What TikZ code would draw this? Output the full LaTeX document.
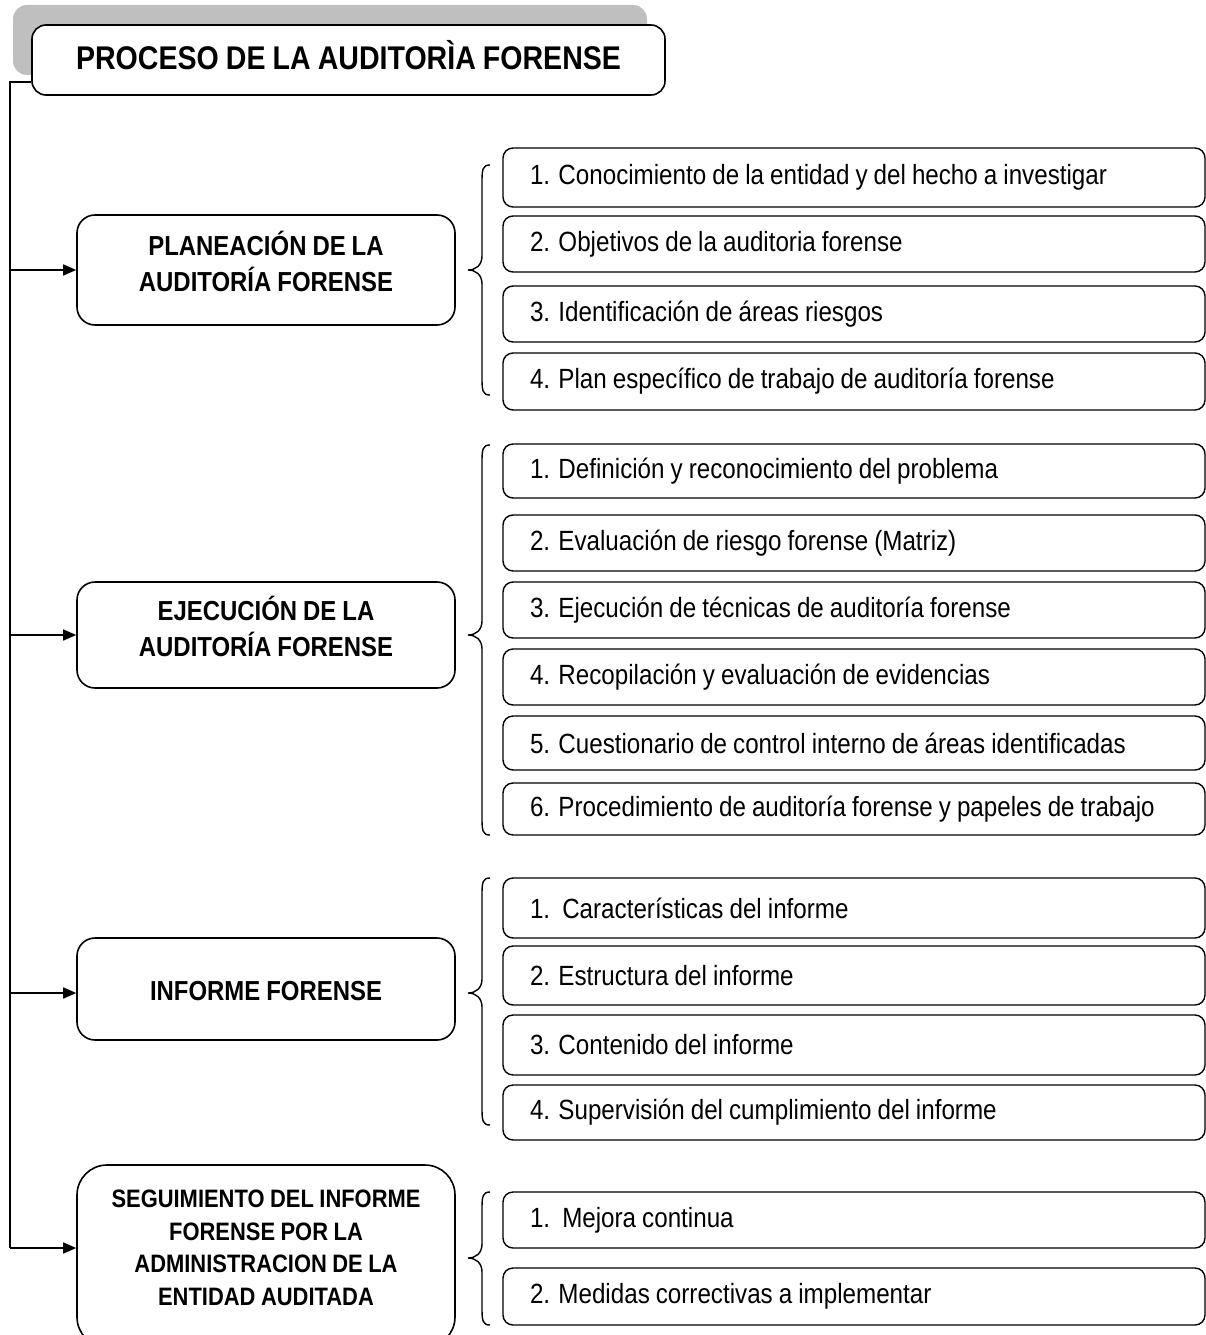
\documentclass[tikz,border=0pt]{standalone}
\usepackage{fontspec}
\setmainfont{Liberation Sans}[FakeStretch=0.87,WordSpace=0.9]
\usetikzlibrary{arrows.meta}
\begin{document}
\begin{tikzpicture}[x=1pt,y=-1pt,
  every node/.style={inner sep=0pt},
  line/.style={line width=1.6pt},
  mainbox/.style={draw,line width=1.6pt,rounded corners=18pt,fill=white,minimum width=378pt},
  maintext/.style={align=center,font=\fontsize{27.5}{36}\selectfont\bfseries},
  itembox/.style={draw,line width=1.4pt,rounded corners=10pt,fill=white,minimum width=702pt,text width=648pt,align=left,
    font=\fontsize{27.8}{32}\selectfont,execute at begin node={\spaceskip=0pt\xspaceskip=0pt\relax}},
  arr/.style={line width=1.6pt,-{Triangle[length=13pt,width=11pt]}},
  bracestyle/.style={line width=1.4pt}
]
\useasboundingbox (0,0) rectangle (1206,1335);
\newcommand\mybrace[3]{%
  \draw[bracestyle] (490,#1) .. controls (483,#1) and (482,#1+4) .. (482,#1+16) -- (482,#2-14)
    .. controls (482,#2-5) and (476,#2) .. (468,#2)
    .. controls (476,#2) and (482,#2+5) .. (482,#2+14) -- (482,#3-16)
    .. controls (482,#3-4) and (483,#3) .. (490,#3);}

% title
\fill[black!25,rounded corners=14pt] (13,5) rectangle (647,75);
\node[draw,line width=1.6pt,rounded corners=14pt,fill=white,minimum width=633pt,minimum height=70pt] (title) at (348.5,60) {};
\node[font=\fontsize{32.8}{40}\selectfont\bfseries] (titleT) at (348.5,55) {PROCESO DE LA AUDITORÌA FORENSE};

% main boxes
\node[mainbox,minimum height=110pt] (plan) at (266,270) {};
\node[maintext] (planT) at (266,261) {PLANEACIÓN DE LA\\AUDITORÍA FORENSE};
\node[mainbox,minimum height=106pt] (ejec) at (266,635) {};
\node[maintext] (ejecT) at (266,626) {EJECUCIÓN DE LA\\AUDITORÍA FORENSE};
\node[mainbox,minimum height=102pt] (info) at (266,989) {};
\node[maintext] (infoT) at (266,991) {INFORME FORENSE};
\node[mainbox,minimum height=182pt,rounded corners=30pt] (segu) at (266,1256) {};
\node[maintext,font=\fontsize{25.2}{32.5}\selectfont\bfseries] (seguT) at (266,1248) {SEGUIMIENTO DEL INFORME\\FORENSE POR LA\\ADMINISTRACION DE LA\\ENTIDAD AUDITADA};

% trunk
\coordinate (t0) at (10,82);
\coordinate (ta) at (10,270);
\coordinate (tb) at (10,635);
\coordinate (tc) at (10,993);
\coordinate (td) at (10,1248);
\draw[line] (title.west |- t0) -- (t0) -- (td);
\draw[arr] (ta) -- (plan.west |- ta);
\draw[arr] (tb) -- (ejec.west |- tb);
\draw[arr] (tc) -- (info.west |- tc);
\draw[arr] (td) -- (segu.west |- td);

% braces
\mybrace{165}{270}{395}
\mybrace{445}{635}{835}
\mybrace{878}{993}{1125}
\mybrace{1192}{1258}{1325}

% items planeacion
\node[itembox,minimum height=59pt] (p1) at (854,177.5) {1. Conocimiento de la entidad y del hecho a investigar};
\node[itembox,minimum height=56pt] (p2) at (854,244) {2. Objetivos de la auditoria forense};
\node[itembox,minimum height=56pt] (p3) at (854,314) {3. Identificación de áreas riesgos};
\node[itembox,minimum height=57pt] (p4) at (854,381.5) {4. Plan específico de trabajo de auditoría forense};

% items ejecucion
\node[itembox,minimum height=54pt] (e1) at (854,471) {1. Definición y reconocimiento del problema};
\node[itembox,minimum height=56pt] (e2) at (854,543) {2. Evaluación de riesgo forense (Matriz)};
\node[itembox,minimum height=56pt] (e3) at (854,610) {3. Ejecución de técnicas de auditoría forense};
\node[itembox,minimum height=56pt] (e4) at (854,677) {4. Recopilación y evaluación de evidencias};
\node[itembox,minimum height=54pt] (e5) at (854,743) {5. Cuestionario de control interno de áreas identificadas};
\node[itembox,minimum height=52pt] (e6) at (854,809) {6. Procedimiento de auditoría forense y papeles de trabajo};

% items informe
\node[itembox,minimum height=60pt] (i1) at (854,908) {1.\ \ Características del informe};
\node[itembox,minimum height=59pt] (i2) at (854,975.5) {2. Estructura del informe};
\node[itembox,minimum height=60pt] (i3) at (854,1045) {3. Contenido del informe};
\node[itembox,minimum height=55pt] (i4) at (854,1112.5) {4. Supervisión del cumplimiento del informe};

% items seguimiento
\node[itembox,minimum height=56pt] (s1) at (854,1220) {1.\ \ Mejora continua};
\node[itembox,minimum height=57pt] (s2) at (854,1296.5) {2. Medidas correctivas a implementar};
\end{tikzpicture}
\end{document}
